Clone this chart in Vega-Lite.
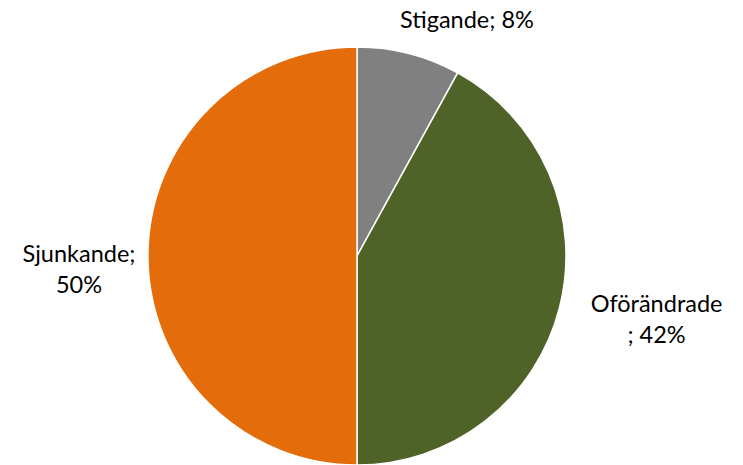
{
  "$schema": "https://vega.github.io/schema/vega-lite/v6.json",
  "width": 714,
  "height": 512,
  "autosize": "none",
  "padding": {"left": 0, "top": 0, "right": 29, "bottom": 0},
  "background": "white",
  "config": {"view": {"stroke": null}},
  "data": {"values": [
    {"kategori": "Stigande", "andel": 8, "ordning": 1, "etikett": "Stigande; 8%"},
    {"kategori": "Oförändrade", "andel": 42, "ordning": 2, "etikett": "Oförändrade\n; 42%"},
    {"kategori": "Sjunkande", "andel": 50, "ordning": 3, "etikett": "Sjunkande;\n50%"}
  ]},
  "encoding": {
    "theta": {"field": "andel", "type": "quantitative", "stack": true},
    "order": {"field": "ordning", "type": "quantitative"}
  },
  "layer": [
    {
      "mark": {"type": "arc", "outerRadius": 209, "stroke": "white", "strokeWidth": 1.5},
      "encoding": {
        "color": {"field": "kategori", "type": "nominal", "legend": null,
          "scale": {"domain": ["Stigande", "Oförändrade", "Sjunkande"], "range": ["#808080", "#4F6228", "#E46C0A"]}}
      }
    },
    {
      "mark": {"type": "text", "radius": 245, "dx": 49, "dy": 2, "font": "Lato", "fontSize": 23.5, "lineBreak": "\n", "lineHeight": 31, "align": "center", "baseline": "middle", "color": "#000000"},
      "encoding": {"text": {"condition": {"test": "datum.kategori === 'Stigande'", "field": "etikett"}, "value": ""}}
    },
    {
      "mark": {"type": "text", "radius": 300, "dx": 9, "dy": -26, "font": "Lato", "fontSize": 23.5, "lineBreak": "\n", "lineHeight": 31, "align": "center", "baseline": "middle", "color": "#000000"},
      "encoding": {"text": {"condition": {"test": "datum.kategori === 'Oförändrade'", "field": "etikett"}, "value": ""}}
    },
    {
      "mark": {"type": "text", "radius": 278, "dx": 0, "dy": -1, "font": "Lato", "fontSize": 23.5, "lineBreak": "\n", "lineHeight": 31, "align": "center", "baseline": "middle", "color": "#000000"},
      "encoding": {"text": {"condition": {"test": "datum.kategori === 'Sjunkande'", "field": "etikett"}, "value": ""}}
    }
  ]
}
